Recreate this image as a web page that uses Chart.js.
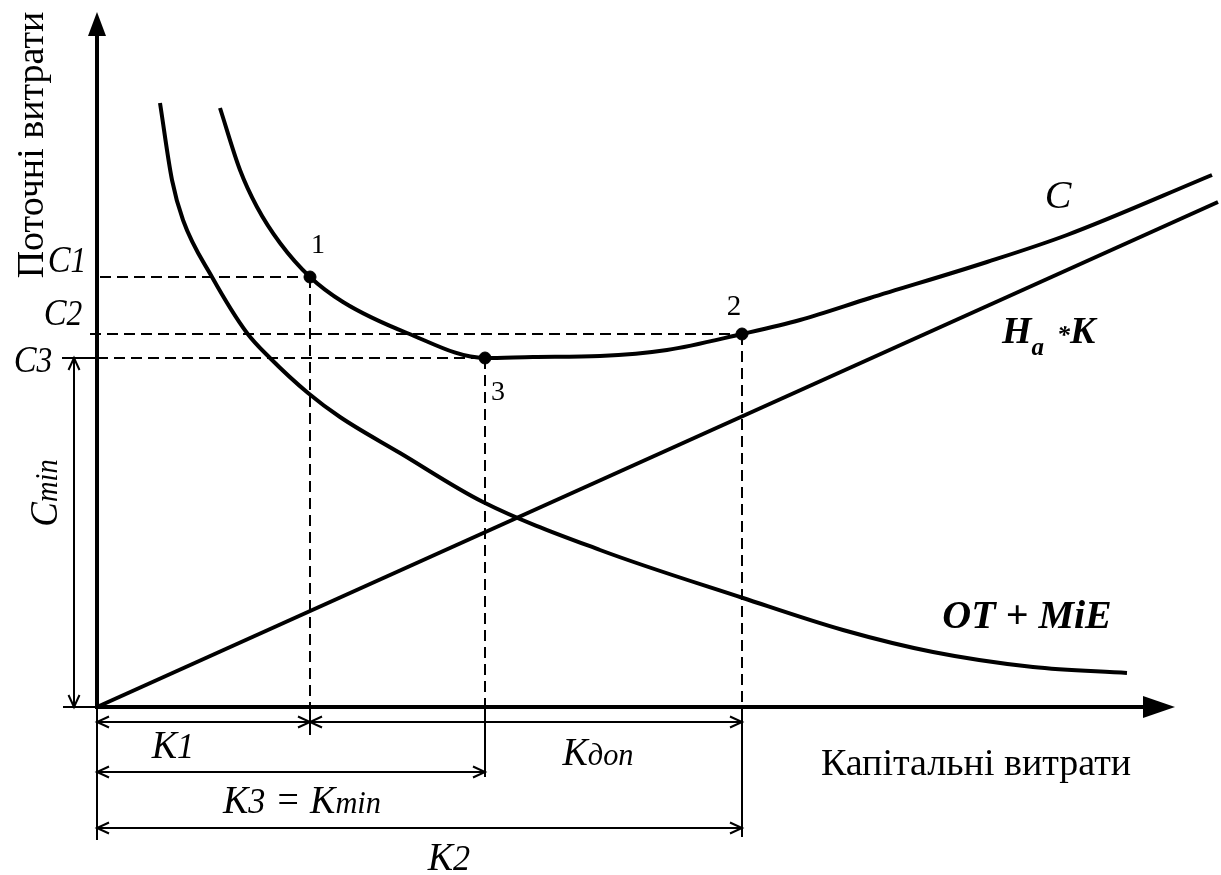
<!DOCTYPE html>
<html>
<head>
<meta charset="utf-8">
<script src="https://cdn.jsdelivr.net/npm/chart.js@4.4.1/dist/chart.umd.min.js"></script>
<style>
body { margin: 0; background: #fff; }
</style>
</head>
<body>
<canvas id="costChart" width="1221" height="875"></canvas>
<script>
// Total current costs C (K = capital costs, C = current costs)
const totalK = [12.3, 14.3, 16.0, 18.3, 21.3, 24.6, 31.0, 38.8, 43.6, 50.3, 57.0, 64.5, 70.3, 77.3, 89.0, 97.0, 111.5];
const totalC = [59.9, 53.7, 50.0, 46.4, 43.0, 40.5, 37.4, 34.9, 35.0, 35.1, 35.7, 37.3, 38.7, 40.9, 44.5, 47.2, 53.2];

// OT + MiE (operating costs)
const opK = [6.3, 7.5, 8.6, 11.5, 15.0, 17.3, 21.1, 24.3, 30.3, 38.6, 50.3, 64.6, 74.6, 83.6, 93.6, 103.0];
const opC = [60.4, 52.7, 48.7, 43.0, 37.4, 34.9, 31.4, 29.0, 25.4, 20.5, 15.7, 10.9, 7.7, 5.5, 4.0, 3.4];

// Ha * K (depreciation line)
const amortK = [0, 112.1];
const amortC = [0, 50.5];

// marked points 1, 2, 3
const pointNames = ['1', '2', '3'];
const pointK = [21.3, 64.5, 38.8];
const pointC = [43.0, 37.3, 34.9];

// levels C1, C2, C3 and the axis ends
const levelNames = ['C1', 'C2', 'C3'];
const levelC = [43.0, 37.3, 34.9];
const axisEndK = 107.8;
const axisEndC = 69.5;

// dimension arrows under the K axis
const dimFrom = [0, 21.3, 0, 0];
const dimTo = [21.3, 64.5, 38.8, 64.5];
const dimLevel = [-1.5, -1.5, -6.5, -12.1];

function pts(xs, ys) {
    return xs.map((x, i) => ({ x: x, y: ys[i] }));
}

function guide(data, dashed) {
    return {
        data: data,
        borderColor: '#000',
        borderWidth: 2,
        borderDash: dashed ? [11, 6] : [],
        pointRadius: 0,
        tension: 0
    };
}

function curve(data) {
    return {
        data: data,
        borderColor: '#000',
        borderWidth: 4,
        pointRadius: 0,
        cubicInterpolationMode: 'monotone'
    };
}

const datasets = [
    // dashed guides from the points
    guide([{ x: 0.3, y: levelC[0] }, { x: pointK[0], y: levelC[0] }], true),
    guide([{ x: -0.7, y: levelC[1] }, { x: pointK[1], y: levelC[1] }], true),
    guide([{ x: 0, y: levelC[2] }, { x: pointK[2], y: levelC[2] }], true),
    guide([{ x: pointK[0], y: pointC[0] }, { x: pointK[0], y: 0 }], true),
    guide([{ x: pointK[1], y: pointC[1] }, { x: pointK[1], y: 0 }], true),
    guide([{ x: pointK[2], y: pointC[2] }, { x: pointK[2], y: 0 }], true),
    // solid extension lines
    guide([{ x: pointK[0], y: 0 }, { x: pointK[0], y: -2.8 }], false),
    guide([{ x: pointK[2], y: 0 }, { x: pointK[2], y: -7.0 }], false),
    guide([{ x: pointK[1], y: 0 }, { x: pointK[1], y: -13.0 }], false),
    guide([{ x: 0, y: 0 }, { x: 0, y: -13.3 }], false),
    guide([{ x: -3.4, y: 0 }, { x: 0, y: 0 }], false),
    guide([{ x: -3.5, y: levelC[2] }, { x: 0, y: levelC[2] }], false),
    // curves
    curve(pts(amortK, amortC)),
    curve(pts(opK, opC)),
    curve(pts(totalK, totalC)),
    {
        data: pts(pointK, pointC),
        showLine: false,
        pointRadius: 6,
        pointBackgroundColor: '#000',
        pointBorderColor: '#000'
    }
];

const serif = '"Liberation Serif", "Times New Roman", serif';

// text made of parts [text, font, dy]; y is the baseline
function drawParts(ctx, parts, x, y, opts) {
    ctx.save();
    ctx.translate(x, y);
    if (opts.rotate) ctx.rotate(opts.rotate);
    ctx.scale(opts.sx || 1, 1);
    ctx.fillStyle = '#000';
    ctx.textAlign = 'left';
    ctx.textBaseline = 'alphabetic';
    let w = 0;
    parts.forEach(p => { ctx.font = p[1]; w += ctx.measureText(p[0]).width; });
    let cx = opts.align === 'left' ? 0 : -w / 2;
    parts.forEach(p => {
        ctx.font = p[1];
        ctx.fillText(p[0], cx, p[2] || 0);
        cx += ctx.measureText(p[0]).width;
    });
    ctx.restore();
}

function openHead(ctx, x, y, dx, dy) {
    // dx, dy: unit direction pointing at the tip
    const len = 12, half = 5.5;
    ctx.beginPath();
    ctx.moveTo(x - dx * len - dy * half, y - dy * len + dx * half);
    ctx.lineTo(x, y);
    ctx.lineTo(x - dx * len + dy * half, y - dy * len - dx * half);
    ctx.stroke();
}

const schemePlugin = {
    id: 'scheme',
    afterDatasetsDraw(chart) {
        const ctx = chart.ctx;
        const xs = chart.scales.x, ys = chart.scales.y;
        const px = v => xs.getPixelForValue(v);
        const py = v => ys.getPixelForValue(v);
        const x0 = px(0), y0 = py(0);

        ctx.save();
        ctx.strokeStyle = '#000';
        ctx.fillStyle = '#000';

        // axes
        ctx.lineWidth = 4;
        ctx.beginPath();
        ctx.moveTo(x0, y0);
        ctx.lineTo(px(axisEndK) - 20, y0);
        ctx.moveTo(x0, y0 + 2);
        ctx.lineTo(x0, py(axisEndC) + 15);
        ctx.stroke();
        ctx.beginPath();
        ctx.moveTo(px(axisEndK), y0);
        ctx.lineTo(px(axisEndK) - 32, y0 - 11);
        ctx.lineTo(px(axisEndK) - 32, y0 + 11);
        ctx.closePath();
        ctx.fill();
        ctx.beginPath();
        ctx.moveTo(x0, py(axisEndC));
        ctx.lineTo(x0 - 9, py(axisEndC) + 24);
        ctx.lineTo(x0 + 9, py(axisEndC) + 24);
        ctx.closePath();
        ctx.fill();

        // dimension arrows
        ctx.lineWidth = 2;
        dimFrom.forEach((a, i) => {
            const ya = py(dimLevel[i]), xa = px(a), xb = px(dimTo[i]);
            ctx.beginPath();
            ctx.moveTo(xa, ya);
            ctx.lineTo(xb, ya);
            ctx.stroke();
            openHead(ctx, xa, ya, -1, 0);
            openHead(ctx, xb, ya, 1, 0);
        });
        // Cmin arrow
        const xc = px(-2.3);
        ctx.beginPath();
        ctx.moveTo(xc, py(levelC[2]));
        ctx.lineTo(xc, y0);
        ctx.stroke();
        openHead(ctx, xc, py(levelC[2]), 0, -1);
        openHead(ctx, xc, y0, 0, 1);

        // labels
        const it = s => 'italic ' + s + 'px ' + serif;
        const bi = s => 'italic bold ' + s + 'px ' + serif;
        const rg = s => s + 'px ' + serif;

        drawParts(ctx, [[levelNames[0].charAt(0), it(38)], [levelNames[0].slice(1), it(35)]], px(-3.0), py(43.5), { sx: 0.9 });
        drawParts(ctx, [[levelNames[1].charAt(0), it(38)], [levelNames[1].slice(1), it(35)]], px(-3.4), py(38.2), { sx: 0.9 });
        drawParts(ctx, [[levelNames[2].charAt(0), it(38)], [levelNames[2].slice(1), it(35)]], px(-6.4), py(33.5), { sx: 0.9 });

        drawParts(ctx, [[pointNames[0], rg(28)]], px(22.1), py(45.4), {});
        drawParts(ctx, [[pointNames[1], rg(29)]], px(63.7), py(39.2), {});
        drawParts(ctx, [[pointNames[2], rg(28)]], px(40.1), py(30.7), {});

        drawParts(ctx, [['C', it(40)]], px(96.1), py(49.9), {});
        drawParts(ctx, [['H', bi(38)], ['a', bi(25), 12], ['  *', bi(26)], ['K', bi(38)]], px(90.5), py(36.4), { align: 'left' });
        drawParts(ctx, [['OT + MiE', bi(40)]], px(93.0), py(7.9), {});

        drawParts(ctx, [['K', it(40)], ['1', it(36)]], px(7.6), py(-5.1), { sx: 0.95 });
        drawParts(ctx, [['K', it(40)], ['доп', it(32)]], px(50.1), py(-5.8), { sx: 0.95 });
        drawParts(ctx, [['K', it(40)], ['3', it(36)], [' = ', it(40)], ['K', it(40)], ['min', it(32)]], px(20.5), py(-10.6), { sx: 0.95 });
        drawParts(ctx, [['K', it(40)], ['2', it(36)]], px(35.2), py(-16.3), { sx: 0.95 });

        drawParts(ctx, [['Капітальні витрати', rg(38)]], px(87.9), py(-6.8), {});
        drawParts(ctx, [['Поточні витрати', rg(38)]], px(-5.4), py(56.2), { rotate: -Math.PI / 2 });
        drawParts(ctx, [['C', it(40)], ['min', it(31)]], px(-4.0), py(21.4), { rotate: -Math.PI / 2, sx: 0.92 });

        ctx.restore();
    }
};

new Chart(document.getElementById('costChart').getContext('2d'), {
    type: 'line',
    data: { datasets: datasets },
    options: {
        responsive: false,
        animation: false,
        layout: { padding: 0, autoPadding: false },
        plugins: { legend: { display: false }, tooltip: { enabled: false } },
        scales: {
            x: { type: 'linear', min: -9.7, max: 112.4, display: false },
            y: { type: 'linear', min: -16.8, max: 70.7, display: false }
        }
    },
    plugins: [schemePlugin]
});
</script>
</body>
</html>
